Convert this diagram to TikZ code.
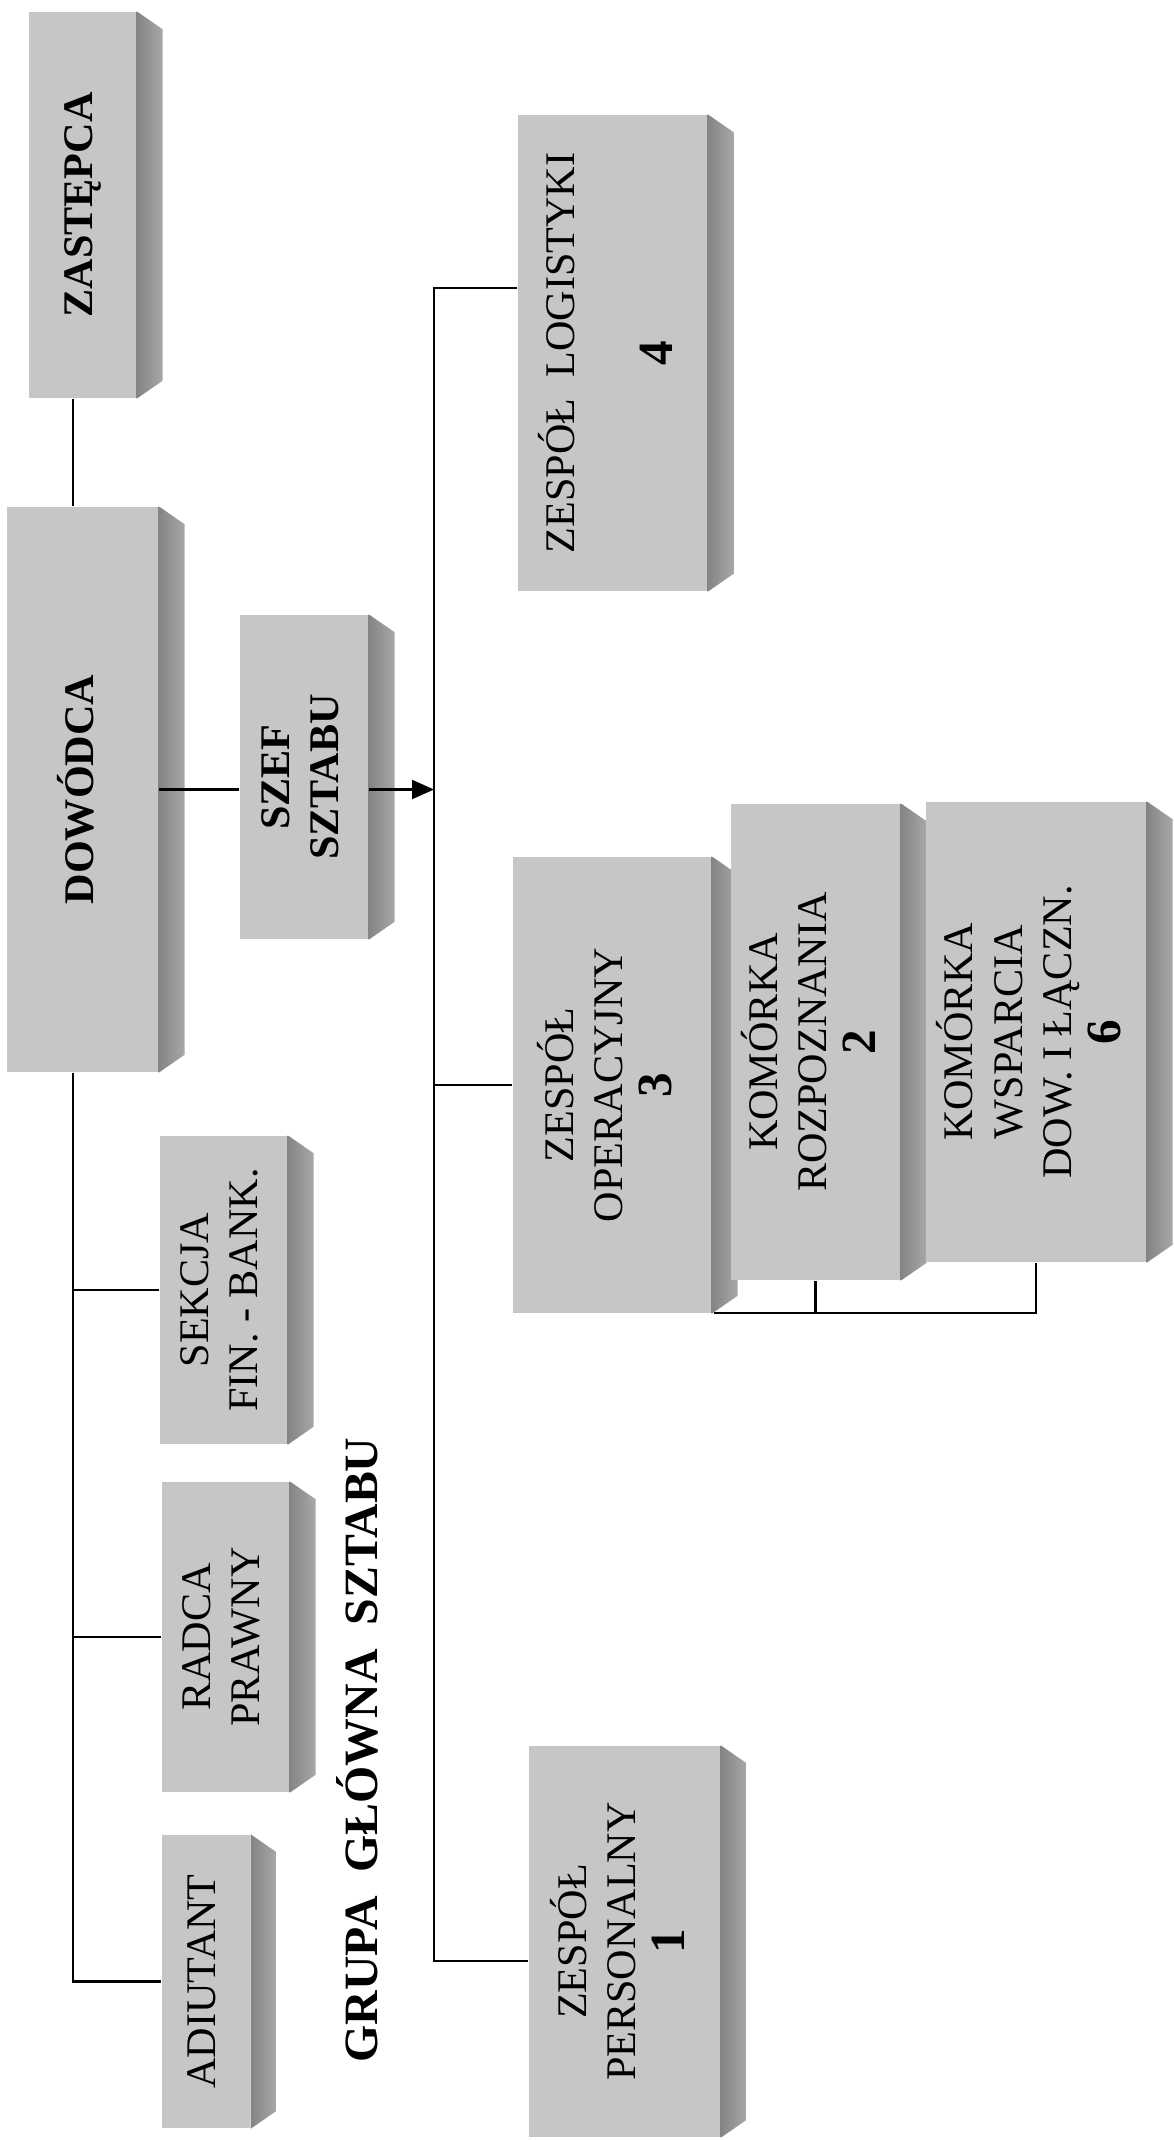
\documentclass[tikz,border=0pt]{standalone}
\usepackage{fontspec}
\setmainfont{Liberation Serif}
\usepackage{graphicx}
\usetikzlibrary{arrows.meta,calc}
\definecolor{facegray}{RGB}{198,198,198}
\definecolor{stripdark}{RGB}{132,132,132}
\definecolor{striplight}{RGB}{168,168,168}
\tikzset{
  facebox/.style={rectangle, fill=facegray, inner sep=0pt, font=\fontsize{12}{14}\selectfont},
  linkln/.style={line width=0.6pt, black},
  arrowln/.style={-{Triangle[length=2.2mm,width=1.9mm]}, line width=0.6pt, black},
}
\newcommand{\sidestrip}[1]{%
  \shade[left color=stripdark, right color=striplight]
    (#1.north east) -- ++(26,18) -- ($(#1.south east)+(26,-18)$) -- (#1.south east) -- cycle;
}
\newcommand{\vtext}[1]{\rotatebox{90}{\begin{tabular}{@{}c@{}}#1\end{tabular}}}
\newcommand{\nr}[1]{\textbf{\fontsize{14}{15}\selectfont #1}}

\begin{document}
\begin{tikzpicture}[x=0.1mm, y=-0.1mm]
  \useasboundingbox (0,0) rectangle (1174,2140);
  % command line
  \node[facebox, minimum width=10.7mm, minimum height=38.6mm] (zast) at (82.5,205) {\vtext{\textbf{ZASTĘPCA}}};
  \sidestrip{zast}
  \node[facebox, minimum width=15.1mm, minimum height=56.5mm] (dow) at (82.5,789.5) {\vtext{\textbf{DOWÓDCA}}};
  \sidestrip{dow}
  \node[facebox, minimum width=12.8mm, minimum height=32.4mm] (szef) at (304,777) {\vtext{\textbf{SZEF}\\\textbf{SZTABU}}};
  \sidestrip{szef}
  % grupa glowna
  \node[facebox, minimum width=12.7mm, minimum height=30.8mm] (sekcja) at (223.5,1290) {\vtext{SEKCJA\\FIN. - BANK.}};
  \sidestrip{sekcja}
  \node[facebox, minimum width=12.7mm, minimum height=31mm] (radca) at (225.5,1637) {\vtext{RADCA\\PRAWNY}};
  \sidestrip{radca}
  \node[facebox, minimum width=8.8mm, minimum height=29.3mm] (adiut) at (206,1981.5) {\vtext{ADIUTANT}};
  \sidestrip{adiut}
  \node[rotate=90, font=\fontsize{13.6}{15}\selectfont\bfseries] (grupa) at (357,1750) {GRUPA~~GŁÓWNA~~SZTABU};
  % zespoly
  \node[facebox, minimum width=18.9mm, minimum height=47.6mm] (logist) at (612.5,353) {\vtext{ZESPÓŁ~~LOGISTYKI\\ \\\nr{4}}};
  \sidestrip{logist}
  \node[facebox, minimum width=19.8mm, minimum height=45.6mm] (oper) at (612,1085) {\vtext{ZESPÓŁ\\OPERACYJNY\\\nr{3}}};
  \sidestrip{oper}
  \node[facebox, minimum width=16.9mm, minimum height=47.6mm] (rozp) at (815.5,1042) {\vtext{KOMÓRKA\\ROZPOZNANIA\\\nr{2}}};
  \sidestrip{rozp}
  \node[facebox, minimum width=22mm, minimum height=46mm] (wsp) at (1036,1032) {\vtext{KOMÓRKA\\WSPARCIA\\DOW. I ŁĄCZN.\\\nr{6}}};
  \sidestrip{wsp}
  \node[facebox, minimum width=19.1mm, minimum height=39.1mm] (pers) at (624.5,1941.5) {\vtext{ZESPÓŁ\\PERSONALNY\\\nr{1}}};
  \sidestrip{pers}
  % connectors
  \coordinate (spine) at (73,0);
  \coordinate (bus) at (434,0);
  \coordinate (bustop) at (434,288);
  \coordinate (busbot) at (434,1961);
  \coordinate (brk) at (714,1313);
  \draw[linkln] (zast.south -| spine) -- (dow.north -| spine);
  \draw[linkln] (dow.south -| spine) -- (spine |- adiut.west) -- (adiut.west);
  \draw[linkln] (spine |- sekcja.west) -- (sekcja.west);
  \draw[linkln] (spine |- radca.west) -- (radca.west);
  \draw[linkln] (dow.east) -- (dow.east -| szef.west);
  \draw[arrowln] (szef.east |- dow.east) -- (bus |- dow.east);
  \draw[linkln] (bustop -| logist.west) -- (bustop) -- (busbot) -- (busbot -| pers.west);
  \draw[linkln] (bus |- oper.west) -- (oper.west);
  \draw[linkln] (brk) -| (wsp.south);
  \draw[linkln] (rozp.south) -- (rozp.south |- brk);
\end{tikzpicture}
\end{document}
